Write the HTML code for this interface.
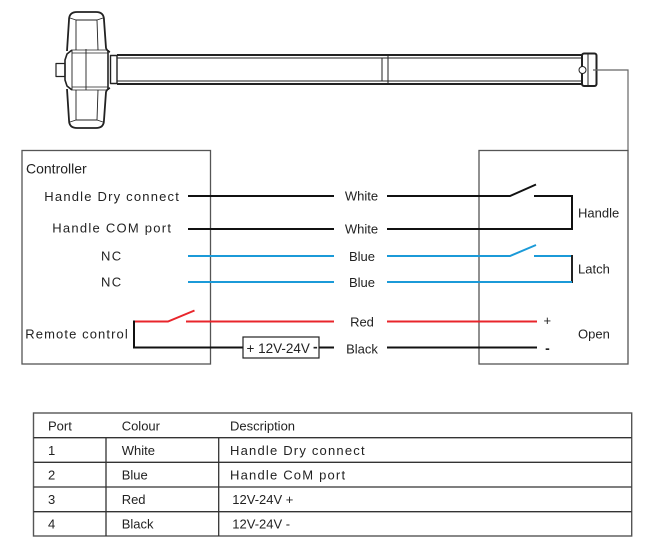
<!DOCTYPE html>
<html><head><meta charset="utf-8"><style>
html,body{margin:0;padding:0;background:#fff;}
svg{display:block;}
text{font-family:"Liberation Sans",Arial,sans-serif;fill:#222;}
</style></head><body>
<svg width="660" height="554" viewBox="0 0 660 554" xmlns="http://www.w3.org/2000/svg">
<rect width="660" height="554" fill="#fff"/>
<!-- Exit device bar -->
<g fill="none" stroke="#222" stroke-linejoin="round">
  <!-- knob -->
  <rect x="56" y="63.5" width="9" height="13" stroke-width="1.2"/>
  <!-- top lobe -->
  <path d="M67,51 L69,20 Q69,12 77,12 L96,12 Q104,12 104,20 L106,48 Q107,51 110,52" stroke-width="1.8"/>
  <path d="M76,50 L76,20 L97,20 L98,50" stroke-width="0.9"/>
  <path d="M70,18 L76,20 M103,18 L97,20" stroke-width="0.8"/>
  <!-- bottom lobe -->
  <path d="M67,89 L69,120 Q69,128 77,128 L96,128 Q104,128 104,120 L106,92 Q107,89 110,88" stroke-width="1.8"/>
  <path d="M76,90 L76,120 L97,120 L98,90" stroke-width="0.9"/>
  <path d="M70,122 L76,120 M103,122 L97,120" stroke-width="0.8"/>
  <!-- center block -->
  <path d="M72,50 L67,54 L65,60 L65,80 L67,86 L72,90" stroke-width="1.6"/>
  <path d="M72,50 L108,50 M72,90 L108,90 M72,53 L108,53 M72,87 L108,87" stroke-width="0.8"/>
  <path d="M72,50 L72,90 M86,49 L86,90" stroke-width="0.9"/>
  <path d="M108,50 L108,90" stroke-width="1.6"/>
  <!-- collar -->
  <rect x="110.5" y="55.5" width="6.5" height="28" stroke-width="1.4"/>
  <!-- bar -->
  <path d="M117,55 L582,55 M117,84 L582,84" stroke-width="2"/>
  <path d="M117,58 L582,58 M117,81 L582,81" stroke-width="1"/>
  <path d="M382,58 L382,81 M388,56 L388,83" stroke-width="1"/>
  <!-- end cap -->
  <rect x="582" y="53.5" width="14.5" height="32.5" rx="2" stroke-width="2"/>
  <path d="M588,54 L588,86" stroke-width="1"/>
  <circle cx="582.5" cy="70" r="3.5" stroke-width="1" fill="#fff"/>
</g>
<polyline points="593,70 628,70 628,151" fill="none" stroke="#666" stroke-width="1.2"/>

<!-- boxes -->
<rect x="22" y="150.5" width="188.5" height="213.5" fill="none" stroke="#555" stroke-width="1.3"/>
<rect x="479" y="150.5" width="149" height="213.5" fill="none" stroke="#555" stroke-width="1.3"/>

<!-- wires -->
<g fill="none" stroke-width="2">
  <!-- White 1 -->
  <path d="M188,196 L334,196 M387,196 L510,196 L536,184.5 M534,196 L572,196" stroke="#111"/>
  <path d="M572,195 L572,230" stroke="#111"/>
  <!-- White 2 -->
  <path d="M188,229 L334,229 M387,229 L572,229" stroke="#111"/>
  <!-- Blue 1 -->
  <path d="M188,256 L334,256 M387,256 L510,256 L536,245 M534,256 L572,256" stroke="#1b9ad8"/>
  <path d="M572,255 L572,283" stroke="#222"/>
  <!-- Blue 2 -->
  <path d="M188,282 L334,282 M387,282 L572,282" stroke="#1b9ad8"/>
  <!-- Red -->
  <path d="M134,321.5 L168,321.5 L194.5,310.5 M186,321.5 L334,321.5 M387,321.5 L537,321.5" stroke="#e8252b"/>
  <!-- Black -->
  <path d="M134,320.5 L134,347.5 L243,347.5 M319,347.5 L334,347.5 M387,347.5 L537,347.5" stroke="#111"/>
</g>
<rect x="243" y="337" width="76" height="21" fill="#fff" stroke="#222" stroke-width="1.2"/>
<text x="246.5" y="353" font-size="13.5">+ 12V-24V</text>
<text x="313" y="351.5" font-size="14" font-weight="bold">-</text>

<!-- controller labels -->
<text x="26" y="173.3" font-size="14">Controller</text>
<text x="44.3" y="201" font-size="13" letter-spacing="1.2">Handle Dry connect</text>
<text x="52.3" y="232.3" font-size="13" letter-spacing="1.25">Handle COM port</text>
<text x="101" y="260.7" font-size="13" letter-spacing="1.3">NC</text>
<text x="101" y="286.7" font-size="13" letter-spacing="1.3">NC</text>
<text x="25.3" y="338.3" font-size="13" letter-spacing="1.1">Remote control</text>

<!-- wire labels -->
<g font-size="13" text-anchor="middle">
  <text x="361.5" y="200.7">White</text>
  <text x="361.5" y="233.5">White</text>
  <text x="362" y="260.8">Blue</text>
  <text x="362" y="287">Blue</text>
  <text x="362" y="326.4">Red</text>
  <text x="362" y="353.3">Black</text>
</g>

<!-- right labels -->
<text x="578" y="217.3" font-size="13">Handle</text>
<text x="578" y="273.3" font-size="13">Latch</text>
<text x="578" y="338.5" font-size="13">Open</text>
<text x="547.3" y="325.2" font-size="13" text-anchor="middle">+</text>
<text x="547.5" y="353" font-size="14" font-weight="bold" text-anchor="middle">-</text>

<!-- table -->
<rect x="33.5" y="413" width="598.2" height="123" fill="none" stroke="#555" stroke-width="1.4"/>
<g stroke="#333" stroke-width="1.3">
  <line x1="33.5" y1="437.7" x2="631.7" y2="437.7"/>
  <line x1="33.5" y1="462.3" x2="631.7" y2="462.3"/>
  <line x1="33.5" y1="487" x2="631.7" y2="487"/>
  <line x1="33.5" y1="511.7" x2="631.7" y2="511.7"/>
  <line x1="106" y1="437.7" x2="106" y2="536"/>
  <line x1="218.7" y1="437.7" x2="218.7" y2="536"/>
</g>
<g font-size="13">
  <text x="48" y="430.7">Port</text>
  <text x="121.7" y="430.7">Colour</text>
  <text x="230" y="430.7">Description</text>
  <text x="48" y="455">1</text>
  <text x="121.7" y="455">White</text>
  <text x="230" y="455" letter-spacing="1.2">Handle Dry connect</text>
  <text x="48" y="479.4">2</text>
  <text x="121.7" y="479.4">Blue</text>
  <text x="230" y="479.4" letter-spacing="1.2">Handle CoM port</text>
  <text x="48" y="504">3</text>
  <text x="121.7" y="504">Red</text>
  <text x="232.3" y="504">12V-24V +</text>
  <text x="48" y="528.7">4</text>
  <text x="121.7" y="528.7">Black</text>
  <text x="232.3" y="528.7">12V-24V -</text>
</g>
</svg>
</body></html>
